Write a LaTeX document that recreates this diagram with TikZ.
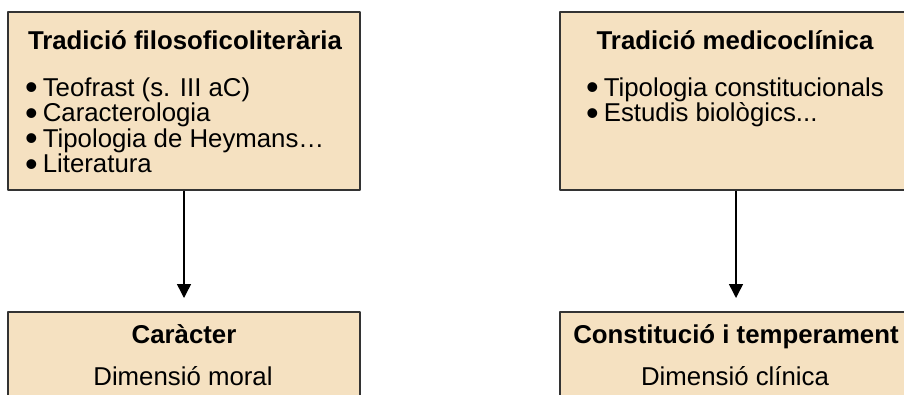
\documentclass[tikz,border=0pt]{standalone}
\usepackage{fontspec}
\setmainfont{Liberation Sans}
\usetikzlibrary{arrows.meta,positioning}
\definecolor{boxfill}{HTML}{F5E1C1}
\definecolor{boxline}{HTML}{333333}
\newcommand\punt{\smash{\raisebox{-3.5pt}{\fontsize{36}{36}\selectfont•}}\hspace{5pt}}
\begin{document}
\begin{tikzpicture}[x=1pt, y=-1pt, >={Triangle[length=14pt,width=14pt]}, line join=round,
	box/.style={draw=boxline, line width=1.6pt, fill=boxfill, minimum width=352pt, inner sep=0pt, anchor=north},
	head/.style={font=\bfseries\fontsize{25.8}{30}\selectfont, inner sep=0pt, anchor=base},
	item/.style={font=\fontsize{25.8}{30}\selectfont, inner sep=0pt, anchor=base west}]
			\useasboundingbox (0,0) rectangle (904,394);
			\clip (0,0) rectangle (904,394);
			\node[box, minimum height=178pt] (filo) at (184,11) {};
			\node[box, minimum height=178pt] (medi) at (736,11) {};
			\node[box, minimum height=120pt] (carac) at (184,311) {};
			\node[box, minimum height=120pt] (const) at (736,311) {};
			% tradicions
			\node[head] (filoT) at (185,49) {Tradició filosoficoliterària};
			\node[head] (mediT) at (735,49) {Tradició medicoclínica};
			\foreach \t [count=\i from 0] in {{Teofrast (s. III aC)}, {Caracterologia}, {Tipologia de Heymans…}, {Literatura}}
				\node[item] (filo\i) at (25,96+25.6*\i) {\punt\t};
			\foreach \t [count=\i from 0] in {{Tipologia constitucionals}, {Estudis biològics.{}.{}.}}
				\node[item] (medi\i) at (586,96+25.6*\i) {\punt\t};
			% dimensions
			\node[head] (caracT) at (184,343) {Caràcter};
			\node[item, anchor=base] (caracD) at (183,385) {Dimensió moral};
			\node[head] (constT) at (736,343) {Constitució i temperament};
			\node[item, anchor=base] (constD) at (735,385) {Dimensió clínica};
			\draw[->, line width=1.5pt] (filo.south) -- ([yshift=13pt]carac.north);
			\draw[->, line width=1.5pt] (medi.south) -- ([yshift=13pt]const.north);
			\end{tikzpicture}
\end{document}
